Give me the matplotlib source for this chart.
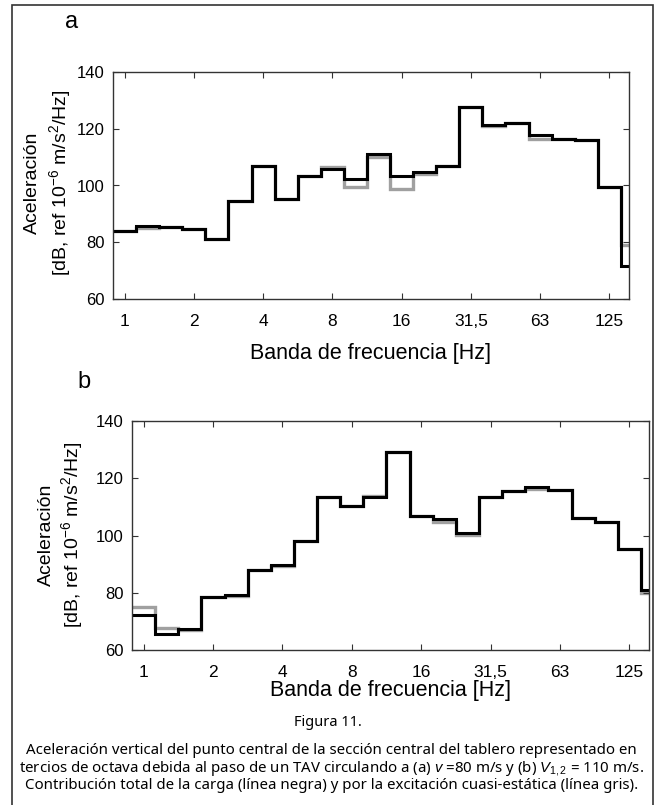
import numpy as np
import matplotlib.pyplot as plt
from matplotlib.patches import Rectangle

plt.rcParams['font.family'] = ['Liberation Sans', 'DejaVu Sans']
plt.rcParams['mathtext.fontset'] = 'custom'
plt.rcParams['mathtext.rm'] = 'Liberation Sans'
plt.rcParams['mathtext.it'] = 'Liberation Sans:italic'

# third-octave bands, index 0 = 1 Hz ... 21 = 125 Hz, 22 = 160 Hz
band_idx = np.arange(23)
tick_idx = [0, 3, 6, 9, 12, 15, 18, 21]
tick_labels = ['1', '2', '4', '8', '16', '31,5', '63', '125']

# panel a (v = 80 m/s)
a_total = [84.0, 85.6, 85.3, 84.7, 81.2, 94.4, 107.0, 95.2, 103.4, 105.9, 102.3, 111.1,
           103.4, 104.7, 106.9, 127.5, 121.4, 122.0, 117.9, 116.4, 116.1, 99.4, 71.5]
a_quasi = [84.0, 85.0, 85.3, 84.7, 81.2, 94.4, 107.0, 95.2, 103.4, 106.4, 99.4, 110.0,
           98.7, 104.1, 106.9, 127.5, 121.0, 122.0, 116.5, 116.4, 116.1, 99.4, 79.0]

# panel b (V1,2 = 110 m/s)
b_total = [72.2, 65.6, 67.3, 78.6, 79.2, 88.1, 89.6, 98.0, 113.4, 110.3, 113.4, 129.1,
           106.7, 105.9, 100.9, 113.4, 115.7, 117.1, 116.0, 106.2, 104.7, 95.4, 80.9]
b_quasi = [75.1, 67.7, 67.0, 78.6, 78.8, 88.1, 89.4, 98.0, 113.4, 110.3, 113.9, 129.1,
           106.7, 104.7, 100.1, 113.4, 115.5, 116.2, 116.0, 106.2, 104.7, 95.4, 80.0]

W, H = 656, 805
fig = plt.figure(figsize=(W / 100, H / 100), dpi=100)


def rect_px(left, top, right, bottom):
    return [left / W, 1 - bottom / H, (right - left) / W, (bottom - top) / H]


def panel(rect, total, quasi, xlabelpad):
    ax = fig.add_axes(rect)
    edges = 2 ** ((np.append(band_idx, band_idx[-1] + 1) - 0.5) / 3)
    ax.stairs(quasi, edges, baseline=None, color='#a0a0a0', lw=2.4)
    ax.stairs(total, edges, baseline=None, color='black', lw=2.2)
    ax.set_xscale('log', base=2)
    ax.set_xlim(2 ** (-0.5 / 3), 2 ** (21.85 / 3))
    ax.set_ylim(60, 140)
    ax.set_xticks(2 ** (np.array(tick_idx) / 3))
    ax.set_xticklabels(tick_labels)
    ax.minorticks_off()
    ax.set_yticks([60, 80, 100, 120, 140])
    ax.tick_params(direction='in', length=4, width=0.8, color='#333333',
                   top=True, right=True, labelsize=12.5)
    ax.tick_params(axis='x', pad=11)
    ax.tick_params(axis='y', pad=6, labelsize=12)
    for s in ax.spines.values():
        s.set_color('#333333')
        s.set_linewidth(1.0)
    ax.set_xlabel('Banda de frecuencia [Hz]', fontsize=15.5, labelpad=xlabelpad)
    return ax


ax_a = panel(rect_px(113, 72, 629, 299), a_total, a_quasi, 10)
ax_b = panel(rect_px(132, 421, 649, 650), b_total, b_quasi, 0)

ylab2 = r'[dB, ref 10$^{-6}$ m/s$^{2}$/Hz]'
for x1, x2, yc in [(32, 60, 183), (46, 72, 535)]:
    fig.text(x1 / W, 1 - yc / H, 'Aceleración', rotation=90, ha='center', va='center', fontsize=14)
    fig.text(x2 / W, 1 - yc / H, ylab2, rotation=90, ha='center', va='center', fontsize=14)

fig.text(72 / W, 1 - 22 / H, 'a', fontsize=17, ha='center', va='center')
fig.text(84 / W, 1 - 382 / H, 'b', fontsize=17, ha='center', va='center')

# outer frame
fig.add_artist(Rectangle((12 / W, -0.05), 641 / W, 1.05 - 5 / H, transform=fig.transFigure,
                         fill=False, ec='#333333', lw=1.2))

cap_font = ['Noto Sans', 'DejaVu Sans']
fig.text(0.5, 1 - 722 / H, 'Figura 11.', ha='center', va='center', fontsize=10.5, family=cap_font)
caption = ('Aceleración vertical del punto central de la sección central del tablero representado en\n'
           'tercios de octava debida al paso de un TAV circulando a (a) $v$ =80 m/s y (b) $V_{1,2}$ = 110 m/s.\n'
           'Contribución total de la carga (línea negra) y por la excitación cuasi-estática (línea gris).')
fig.text(0.505, 1 - 768 / H, caption, ha='center', va='center', fontsize=10.8,
         family=cap_font, linespacing=1.05)

fig.savefig('out.png', dpi=100)
